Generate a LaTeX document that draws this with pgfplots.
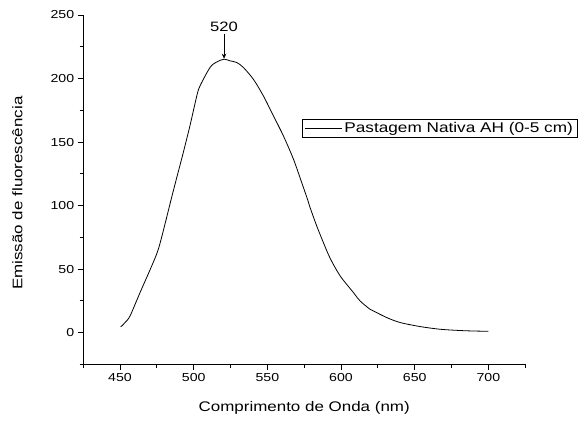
\documentclass[border=0pt]{standalone}
\usepackage{pgfplots}
\pgfplotsset{compat=1.18}
\usepackage{fontspec}
\setmainfont[FakeStretch=1.22]{Liberation Sans}
\usetikzlibrary{arrows.meta}
\pgfplotstableread{
x y
450.4 4.6
451.2 5.2
453.4 7.9
456.8 13.1
463.6 31.5
471.5 52.4
476.0 65.6
480.5 85.3
484.5 104.0
488.5 122.0
493.0 142.0
497.5 163.0
502.1 186.3
504.3 194.2
511.1 208.7
515.6 213.0
520.6 215.2
524.7 213.9
529.2 212.6
533.7 208.7
540.5 199.4
547.3 186.3
554.1 170.6
560.9 154.8
567.7 136.5
573.3 118.1
577.2 105.0
579.0 98.4
583.5 83.9
588.0 70.9
592.6 58.5
599.4 44.6
608.4 31.5
612.9 24.9
619.7 18.3
622.0 17.0
631.0 11.8
640.1 7.9
653.7 4.7
667.2 2.6
680.8 1.6
690.0 1.2
700.0 1.0
}\spectrum
\begin{document}
\begin{tikzpicture}
\useasboundingbox (-83.2pt,-58.7pt) rectangle (494.8pt,364.3pt);
\begin{axis}[
  at={(0,0)}, anchor=south west,
  scale only axis, width=442pt, height=349.3pt,
  xmin=425, xmax=725, ymin=-25, ymax=250,
  axis x line=bottom, axis y line=left,
  axis line style={-, line width=0.9pt},
  tick align=outside,
  xtick={450,500,...,700}, minor xtick={425,475,...,725},
  ytick={0,50,...,250}, minor ytick={-25,25,...,225},
  major tick length=5.5pt, minor tick length=3.5pt,
  tick style={line width=0.8pt, black},
  /pgf/number format/assume math mode=true,
  ticklabel style={font=\fontsize{11.6}{13}\selectfont},
  xlabel={Comprimento de Onda (nm)},
  ylabel={Emissão de fluorescência},
  xlabel style={font=\fontsize{13.9}{16}\selectfont, at={(axis description cs:0.5,0)}, anchor=center, yshift=-43.7pt},
  ylabel style={font=\fontsize{13.9}{16}\selectfont, at={(axis description cs:-0.149,0.49)}, anchor=center},
  legend style={at={(0.4957,0.7023)}, anchor=north west, draw=black, line width=0.6pt,
    font=\fontsize{14.1}{15}\selectfont, inner xsep=2pt, inner ysep=1pt, cells={anchor=west}},
  legend image code/.code={\draw[line width=0.8pt] (0pt,0pt) -- (37pt,0pt);},
  clip=false,
]
\addplot[black, line width=0.8pt, mark=none, smooth, tension=0.5] table[x=x, y=y] {\spectrum};
\addlegendentry{Pastagem Nativa AH (0-5 cm)}
\draw[-{Stealth[length=5pt,width=4.5pt]}, line width=0.6pt] (axis cs:520.6,235) -- (axis cs:520.6,215.6);
\node[font=\fontsize{13.6}{15}\selectfont] at (axis cs:520.6,240.8) {520};
\end{axis}
\end{tikzpicture}
\end{document}
